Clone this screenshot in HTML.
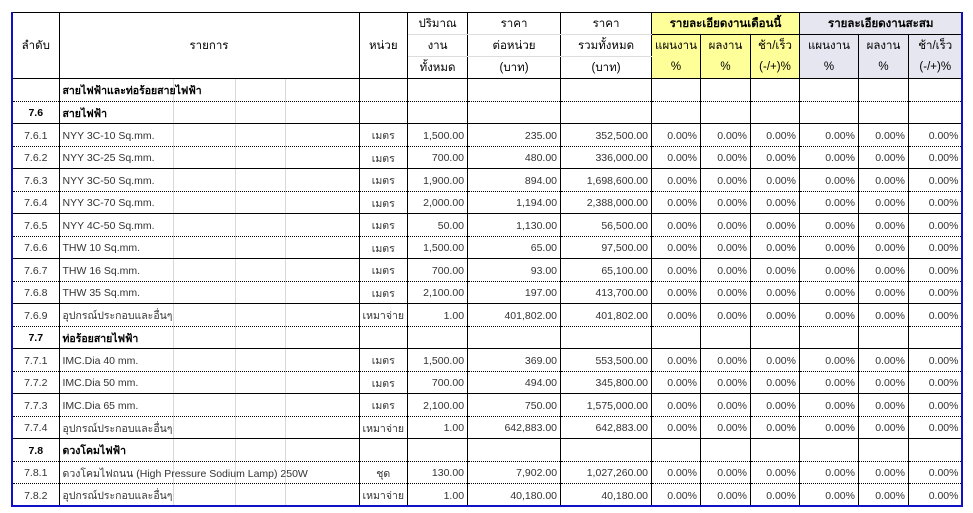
<!DOCTYPE html>
<html><head><meta charset="utf-8"><style>
body{margin:0;background:#fff;width:973px;height:513px;overflow:hidden;position:relative;font-family:"Liberation Sans","DejaVu Sans",sans-serif;}
.g{position:absolute;top:79px;height:428px;width:1px;background:#d8d8d8;}
table{position:absolute;left:11px;top:12px;border-collapse:collapse;table-layout:fixed;font-size:10.5px;color:#333;}
td{padding:0 3px;white-space:nowrap;overflow:hidden;border-left:1px solid #000;border-right:1px solid #000;}
thead td{color:#000;font-size:11.5px;text-align:center;height:21px;}
.y{background:#ffff99}.l{background:#e6e6f0}
.hb td{border-bottom:1px solid #000}
tbody td{height:22.5px;vertical-align:middle;padding-top:2px;box-sizing:border-box;}
tr.d td{border-bottom:1px dotted #000}
tr.s td{border-bottom:1px solid #000}
.c{text-align:center}.r{text-align:right}
.b{font-weight:bold;color:#000}
.first{border-left:2px solid #1010c8}
.last{border-right:2px solid #1010c8}
tr.end td{border-bottom:2px solid #1010c8}
</style></head><body>
<div class="g" style="left:173px"></div><div class="g" style="left:235px"></div><div class="g" style="left:285px"></div>
<table>
<colgroup><col style="width:47px"><col style="width:300px"><col style="width:48px"><col style="width:60px"><col style="width:93px"><col style="width:91px"><col style="width:47px"><col style="width:50px"><col style="width:49px"><col style="width:59px"><col style="width:50px"><col style="width:54px"></colgroup>
<thead>
<tr style="border-top:1px solid #000"><td rowspan="3" class="first" style="border-bottom:1px solid #000">ลำดับ</td><td rowspan="3" style="border-bottom:1px solid #000">รายการ</td><td rowspan="3" style="border-bottom:1px solid #000">หน่วย</td><td style="border-bottom:1px solid #ddd">ปริมาณ</td><td style="border-bottom:1px solid #ddd">ราคา</td><td style="border-bottom:1px solid #ddd">ราคา</td><td colspan="3" class="y b" style="border-bottom:1px solid #000">รายละเอียดงานเดือนนี้</td><td colspan="3" class="l b last" style="border-bottom:1px solid #000">รายละเอียดงานสะสม</td></tr>
<tr><td style="border-bottom:1px solid #ddd">งาน</td><td style="border-bottom:1px solid #ddd">ต่อหน่วย</td><td style="border-bottom:1px solid #ddd">รวมทั้งหมด</td><td class="y">แผนงาน</td><td class="y">ผลงาน</td><td class="y">ช้า/เร็ว</td><td class="l">แผนงาน</td><td class="l">ผลงาน</td><td class="l last">ช้า/เร็ว</td></tr>
<tr class="hb"><td>ทั้งหมด</td><td>(บาท)</td><td>(บาท)</td><td class="y">%</td><td class="y">%</td><td class="y">(-/+)%</td><td class="l">%</td><td class="l">%</td><td class="l last">(-/+)%</td></tr>
</thead>
<tbody>
<tr class="d"><td class="first"></td><td class="b">สายไฟฟ้าและท่อร้อยสายไฟฟ้า</td><td></td><td></td><td></td><td></td><td></td><td></td><td></td><td></td><td></td><td class="last"></td></tr>
<tr class="s"><td class="first c b">7.6</td><td class="b">สายไฟฟ้า</td><td></td><td></td><td></td><td></td><td></td><td></td><td></td><td></td><td></td><td class="last"></td></tr>
<tr class="d"><td class="first c">7.6.1</td><td>NYY 3C-10 Sq.mm.</td><td class="c">เมตร</td><td class="r">1,500.00</td><td class="r">235.00</td><td class="r">352,500.00</td><td class="r">0.00%</td><td class="r">0.00%</td><td class="r">0.00%</td><td class="r">0.00%</td><td class="r">0.00%</td><td class="r last">0.00%</td></tr>
<tr class="s"><td class="first c">7.6.2</td><td>NYY 3C-25 Sq.mm.</td><td class="c">เมตร</td><td class="r">700.00</td><td class="r">480.00</td><td class="r">336,000.00</td><td class="r">0.00%</td><td class="r">0.00%</td><td class="r">0.00%</td><td class="r">0.00%</td><td class="r">0.00%</td><td class="r last">0.00%</td></tr>
<tr class="d"><td class="first c">7.6.3</td><td>NYY 3C-50 Sq.mm.</td><td class="c">เมตร</td><td class="r">1,900.00</td><td class="r">894.00</td><td class="r">1,698,600.00</td><td class="r">0.00%</td><td class="r">0.00%</td><td class="r">0.00%</td><td class="r">0.00%</td><td class="r">0.00%</td><td class="r last">0.00%</td></tr>
<tr class="s"><td class="first c">7.6.4</td><td>NYY 3C-70 Sq.mm.</td><td class="c">เมตร</td><td class="r">2,000.00</td><td class="r">1,194.00</td><td class="r">2,388,000.00</td><td class="r">0.00%</td><td class="r">0.00%</td><td class="r">0.00%</td><td class="r">0.00%</td><td class="r">0.00%</td><td class="r last">0.00%</td></tr>
<tr class="d"><td class="first c">7.6.5</td><td>NYY 4C-50 Sq.mm.</td><td class="c">เมตร</td><td class="r">50.00</td><td class="r">1,130.00</td><td class="r">56,500.00</td><td class="r">0.00%</td><td class="r">0.00%</td><td class="r">0.00%</td><td class="r">0.00%</td><td class="r">0.00%</td><td class="r last">0.00%</td></tr>
<tr class="s"><td class="first c">7.6.6</td><td>THW 10 Sq.mm.</td><td class="c">เมตร</td><td class="r">1,500.00</td><td class="r">65.00</td><td class="r">97,500.00</td><td class="r">0.00%</td><td class="r">0.00%</td><td class="r">0.00%</td><td class="r">0.00%</td><td class="r">0.00%</td><td class="r last">0.00%</td></tr>
<tr class="d"><td class="first c">7.6.7</td><td>THW 16 Sq.mm.</td><td class="c">เมตร</td><td class="r">700.00</td><td class="r">93.00</td><td class="r">65,100.00</td><td class="r">0.00%</td><td class="r">0.00%</td><td class="r">0.00%</td><td class="r">0.00%</td><td class="r">0.00%</td><td class="r last">0.00%</td></tr>
<tr class="s"><td class="first c">7.6.8</td><td>THW 35 Sq.mm.</td><td class="c">เมตร</td><td class="r">2,100.00</td><td class="r">197.00</td><td class="r">413,700.00</td><td class="r">0.00%</td><td class="r">0.00%</td><td class="r">0.00%</td><td class="r">0.00%</td><td class="r">0.00%</td><td class="r last">0.00%</td></tr>
<tr class="d"><td class="first c">7.6.9</td><td>อุปกรณ์ประกอบและอื่นๆ</td><td class="c">เหมาจ่าย</td><td class="r">1.00</td><td class="r">401,802.00</td><td class="r">401,802.00</td><td class="r">0.00%</td><td class="r">0.00%</td><td class="r">0.00%</td><td class="r">0.00%</td><td class="r">0.00%</td><td class="r last">0.00%</td></tr>
<tr class="s"><td class="first c b">7.7</td><td class="b">ท่อร้อยสายไฟฟ้า</td><td></td><td></td><td></td><td></td><td></td><td></td><td></td><td></td><td></td><td class="last"></td></tr>
<tr class="d"><td class="first c">7.7.1</td><td>IMC.Dia 40 mm.</td><td class="c">เมตร</td><td class="r">1,500.00</td><td class="r">369.00</td><td class="r">553,500.00</td><td class="r">0.00%</td><td class="r">0.00%</td><td class="r">0.00%</td><td class="r">0.00%</td><td class="r">0.00%</td><td class="r last">0.00%</td></tr>
<tr class="s"><td class="first c">7.7.2</td><td>IMC.Dia 50 mm.</td><td class="c">เมตร</td><td class="r">700.00</td><td class="r">494.00</td><td class="r">345,800.00</td><td class="r">0.00%</td><td class="r">0.00%</td><td class="r">0.00%</td><td class="r">0.00%</td><td class="r">0.00%</td><td class="r last">0.00%</td></tr>
<tr class="d"><td class="first c">7.7.3</td><td>IMC.Dia 65 mm.</td><td class="c">เมตร</td><td class="r">2,100.00</td><td class="r">750.00</td><td class="r">1,575,000.00</td><td class="r">0.00%</td><td class="r">0.00%</td><td class="r">0.00%</td><td class="r">0.00%</td><td class="r">0.00%</td><td class="r last">0.00%</td></tr>
<tr class="s"><td class="first c">7.7.4</td><td>อุปกรณ์ประกอบและอื่นๆ</td><td class="c">เหมาจ่าย</td><td class="r">1.00</td><td class="r">642,883.00</td><td class="r">642,883.00</td><td class="r">0.00%</td><td class="r">0.00%</td><td class="r">0.00%</td><td class="r">0.00%</td><td class="r">0.00%</td><td class="r last">0.00%</td></tr>
<tr class="d"><td class="first c b">7.8</td><td class="b">ดวงโคมไฟฟ้า</td><td></td><td></td><td></td><td></td><td></td><td></td><td></td><td></td><td></td><td class="last"></td></tr>
<tr class="d"><td class="first c">7.8.1</td><td>ดวงโคมไฟถนน (High Pressure Sodium Lamp) 250W</td><td class="c">ชุด</td><td class="r">130.00</td><td class="r">7,902.00</td><td class="r">1,027,260.00</td><td class="r">0.00%</td><td class="r">0.00%</td><td class="r">0.00%</td><td class="r">0.00%</td><td class="r">0.00%</td><td class="r last">0.00%</td></tr>
<tr class="end"><td class="first c">7.8.2</td><td>อุปกรณ์ประกอบและอื่นๆ</td><td class="c">เหมาจ่าย</td><td class="r">1.00</td><td class="r">40,180.00</td><td class="r">40,180.00</td><td class="r">0.00%</td><td class="r">0.00%</td><td class="r">0.00%</td><td class="r">0.00%</td><td class="r">0.00%</td><td class="r last">0.00%</td></tr>
</tbody></table>
</body></html>
